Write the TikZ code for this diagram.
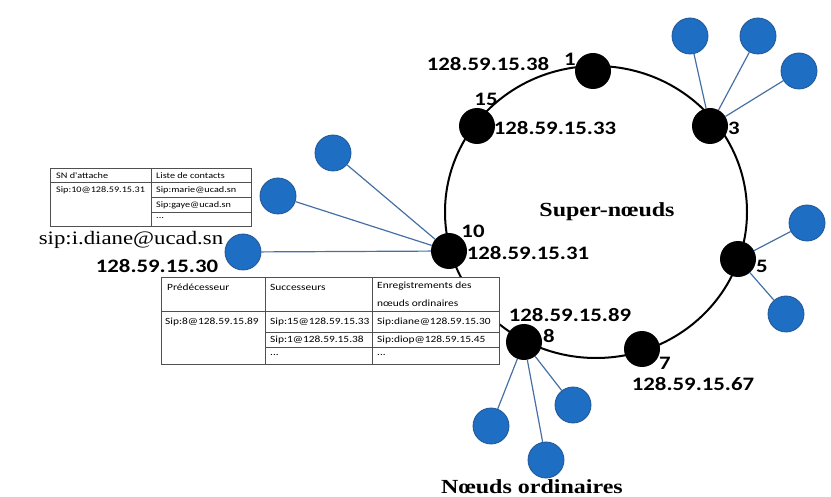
\documentclass[tikz,border=0pt]{standalone}
\usepackage{fontspec}
\usepackage{tikz}
\usepackage{xcolor}
\setmainfont[FakeStretch=1.2]{Liberation Serif}
\newfontfamily\calfont[FakeStretch=1.2]{Carlito}
\definecolor{ordblue}{RGB}{30,110,195}
\definecolor{ordedge}{RGB}{30,85,150}
\definecolor{linkblue}{RGB}{70,112,165}
\definecolor{tabgray}{RGB}{80,80,80}
\usetikzlibrary{positioning}

\begin{document}
\begin{tikzpicture}[x=1pt,y=-1pt,
  supern/.style={circle,fill=black,minimum size=36pt,inner sep=0pt},
  ordn/.style={circle,fill=ordblue,draw=ordedge,line width=0.8pt,minimum size=36pt,inner sep=0pt},
  link/.style={linkblue,line width=1.2pt},
  ip/.style={font=\calfont\bfseries\fontsize{19}{19}\selectfont,inner sep=0pt},
  cell/.style={font=\calfont\fontsize{9.5}{11}\selectfont,anchor=west,inner sep=0pt},
  smallcell/.style={font=\calfont\fontsize{8.5}{10}\selectfont,anchor=west,inner sep=0pt}]
  \useasboundingbox (0,0) rectangle (831,497); % frame of the picture
  \draw[line width=2pt] (596,212) ellipse [x radius=151pt, y radius=146pt]; % the ring
  % super nodes on the ring
  \node[supern] (s1) at (593,71) {};
  \node[supern] (s3) at (710,126) {};
  \node[supern] (s5) at (738,259) {};
  \node[supern] (s7) at (642,349) {};
  \node[supern] (s8) at (524,342) {};
  \node[supern] (s10) at (449,251) {};
  \node[supern] (s15) at (477,126) {};
  % ordinary nodes
  \node[ordn] (o3a) at (690,36) {};
  \node[ordn] (o3b) at (758,36) {};
  \node[ordn] (o3c) at (799,71) {};
  \node[ordn] (o5a) at (807,223) {};
  \node[ordn] (o5b) at (786,314) {};
  \node[ordn] (o8a) at (491,426) {};
  \node[ordn] (o8b) at (546,460) {};
  \node[ordn] (o8c) at (573,405) {};
  \node[ordn] (o10a) at (333,153) {};
  \node[ordn] (o10b) at (278,196) {};
  \node[ordn] (o10c) at (243,252) {};
  \foreach \s/\o in {s3/o3a,s3/o3b,s3/o3c,s5/o5a,s5/o5b,s8/o8a,s8/o8b,s8/o8c,s10/o10a,s10/o10b,s10/o10c}
  {\draw[link] (\s) -- (\o);} % links to the super node
  % numbers and addresses
  \node[ip] (ip1) at (488,64) {128.59.15.38};
  \node[ip] (n1) at (570,59) {1};
  \node[ip] (n15) at (486,99) {15};
  \node[ip] (ip15) at (555,128) {128.59.15.33};
  \node[ip] (n3) at (734,128) {3};
  \node[ip] (n10) at (473,231) {10};
  \node[ip] (ip10) at (528,253) {128.59.15.31};
  \node[ip] (n5) at (762,266) {5};
  \node[ip] (ip8) at (570,315) {128.59.15.89};
  \node[ip] (n8) at (549,336) {8};
  \node[ip] (n7) at (665,363) {7};
  \node[ip] (ip7) at (693,384) {128.59.15.67};
  \node[ip] (ipdiane) at (157,266) {128.59.15.30};
  \node[font=\bfseries\fontsize{20}{20}\selectfont,anchor=base,inner sep=0pt] (super) at (607,217) {Super-nœuds};
  \node[font=\bfseries\fontsize{20}{20}\selectfont,anchor=base,inner sep=0pt] (ordin) at (532,493) {Nœuds ordinaires};
  \node[font=\fontsize{19}{19}\selectfont,anchor=base,inner sep=0pt] (sipdiane) at (131,245) {sip:i.diane@ucad.sn};
  % table of the ordinary node
  \draw[tabgray,line width=0.8pt,fill=white] (50,168) rectangle (251,226);
  \draw[tabgray,line width=0.8pt] (50,182) -- (251,182) (151,168) -- (151,226) (151,197) -- (251,197) (151,212) -- (251,212);
  \node[smallcell] (t1a) at (56,176) {SN d'attache};
  \node[smallcell] (t1b) at (156,176) {Liste de contacts};
  \node[smallcell] (t1c) at (56,190) {Sip:10@128.59.15.31};
  \node[smallcell] (t1d) at (156,190) {Sip:marie@ucad.sn};
  \node[smallcell] (t1e) at (156,205) {Sip:gaye@ucad.sn};
  \node[smallcell] (t1f) at (156,218) {...};
  % table of the super node
  \draw[tabgray,line width=0.8pt,fill=white] (161,277) rectangle (499,364);
  \draw[tabgray,line width=0.8pt] (161,311) -- (499,311) (265,277) -- (265,364) (372,277) -- (372,364) (265,332) -- (499,332) (265,347) -- (499,347);
  \node[cell] (t2a) at (167,287) {Prédécesseur};
  \node[cell] (t2b) at (270,287) {Successeurs};
  \node[cell] (t2c) at (377,286) {Enregistrements des};
  \node[cell] (t2d) at (377,303) {nœuds ordinaires};
  \node[cell] (t2e) at (165,322) {Sip:8@128.59.15.89};
  \node[cell] (t2f) at (270,322) {Sip:15@128.59.15.33};
  \node[cell] (t2g) at (377,322) {Sip:diane@128.59.15.30};
  \node[cell] (t2h) at (270,340) {Sip:1@128.59.15.38};
  \node[cell] (t2i) at (377,340) {Sip:diop@128.59.15.45};
  \node[cell] (t2j) at (270,355) {...};
  \node[cell] (t2k) at (377,355) {...};
\end{tikzpicture}
\end{document}
